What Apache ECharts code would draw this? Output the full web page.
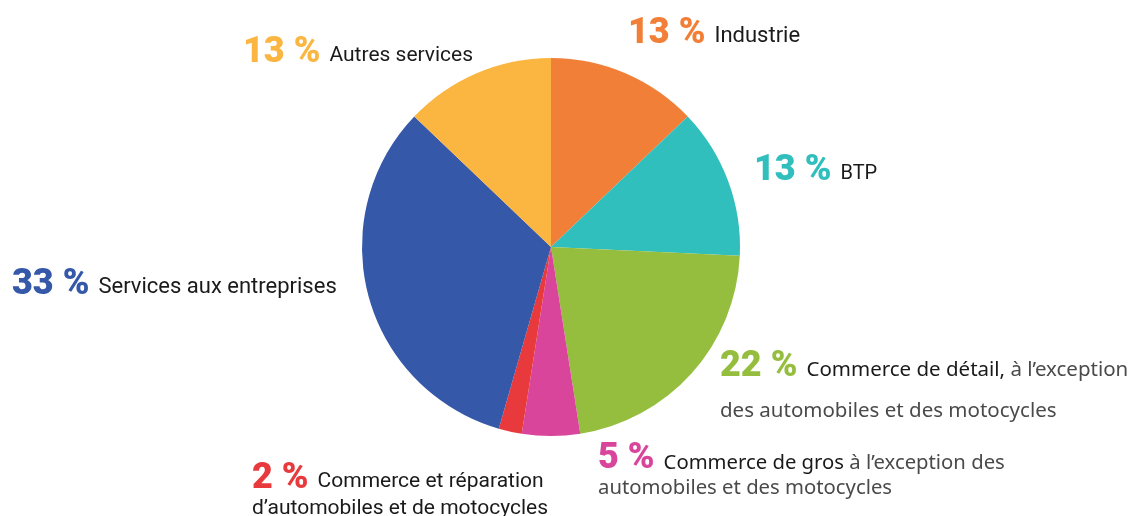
<!DOCTYPE html>
<html style="height: 100%">
<head>
    <meta charset="utf-8">
</head>
<body style="height: 100%; margin: 0; background: #fff">
<div id="container" style="width: 1136px; height: 516px"></div>
<script type="text/javascript" src="https://cdn.jsdelivr.net/npm/echarts@6/dist/echarts.min.js"></script>
<script type="text/javascript">
    // données (sens horaire depuis midi)
    var categories = ['Industrie', 'BTP', 'Commerce de détail,', 'Commerce de gros',
        'Commerce et réparation\nd’automobiles et de motocycles', 'Services aux entreprises', 'Autres services'];
    var notes = ['', '', ' à l’exception\ndes automobiles et des motocycles', ' à l’exception des\nautomobiles et des motocycles',
        '', '', ''];
    var values = [13, 13, 22, 5, 2, 33, 13];
    var colors = ['#F27F38', '#30BFBC', '#95BE3E', '#D8459B', '#E83A3D', '#3558A8', '#FBB541'];

    // style des libellés : famille, et coin haut-gauche de chaque libellé
    var labelFont = ['c', 'c', 's', 's', 'c', 'c', 'c'];
    var labelSize = [22, 20, 20.5, 20.3, 21, 22, 21];
    var labelPos = [[628, 16], [754, 153], [720, 349], [598, 441], [252, 461], [12, 267], [243, 35]];
    var line2Height = [24, 24, 37, 21, 22, 24, 24];

    var dom = document.getElementById("container");
    var myChart = echarts.init(dom);

    var rich = {};
    colors.forEach(function (c, i) {
        rich['p' + i] = {
            color: c, fontFamily: 'Roboto', fontWeight: 900, fontSize: 36,
            lineHeight: 36, verticalAlign: 'bottom', padding: [0, 9, 0, 0]
        };
        var fam = labelFont[i] == 's' ? 'Noto Sans' : 'Roboto';
        var lift = labelFont[i] == 's' ? 4 : 5;
        rich['n' + i] = {
            color: '#1a1a1a', fontFamily: fam, fontSize: labelSize[i],
            lineHeight: 30, verticalAlign: 'bottom', padding: [0, 0, lift, 0]
        };
        rich['m' + i] = {
            color: '#4a4a4a', fontFamily: fam, fontSize: labelSize[i],
            lineHeight: 30, verticalAlign: 'bottom', padding: [0, 0, lift, 0]
        };
        rich['q' + i] = {
            color: labelFont[i] == 's' ? '#4a4a4a' : '#1a1a1a', fontFamily: fam, fontSize: labelSize[i],
            lineHeight: line2Height[i], verticalAlign: 'bottom'
        };
    });

    function formatLabel(params) {
        var i = params.dataIndex;
        var name = categories[i].split('\n');
        var note = notes[i].split('\n');
        var txt = '{p' + i + '|' + values[i] + ' %}{n' + i + '|' + name[0] + '}';
        if (note[0]) txt += '{m' + i + '|' + note[0] + '}';
        var rest = name.length > 1 ? name[1] : note[1];
        if (rest) txt += '\n{q' + i + '|' + rest + '}';
        return txt;
    }

    var data = [];
    for (var i = 0; i < values.length; i++) {
        data.push({value: values[i], name: categories[i], itemStyle: {color: colors[i]}});
    }

    option = {
        animation: false,
        series: [{
            type: 'pie',
            center: [551, 247],
            radius: 189,
            startAngle: 90,
            clockwise: true,
            avoidLabelOverlap: false,
            itemStyle: {borderWidth: 0},
            label: {
                show: true,
                position: 'outside',
                formatter: formatLabel,
                rich: rich
            },
            labelLine: {show: false},
            labelLayout: function (params) {
                var p = labelPos[params.dataIndex];
                return {x: p[0], y: p[1], align: 'left', verticalAlign: 'top', hideOverlap: false};
            },
            data: data
        }]
    };

    myChart.setOption(option);
</script>
</body>
</html>
